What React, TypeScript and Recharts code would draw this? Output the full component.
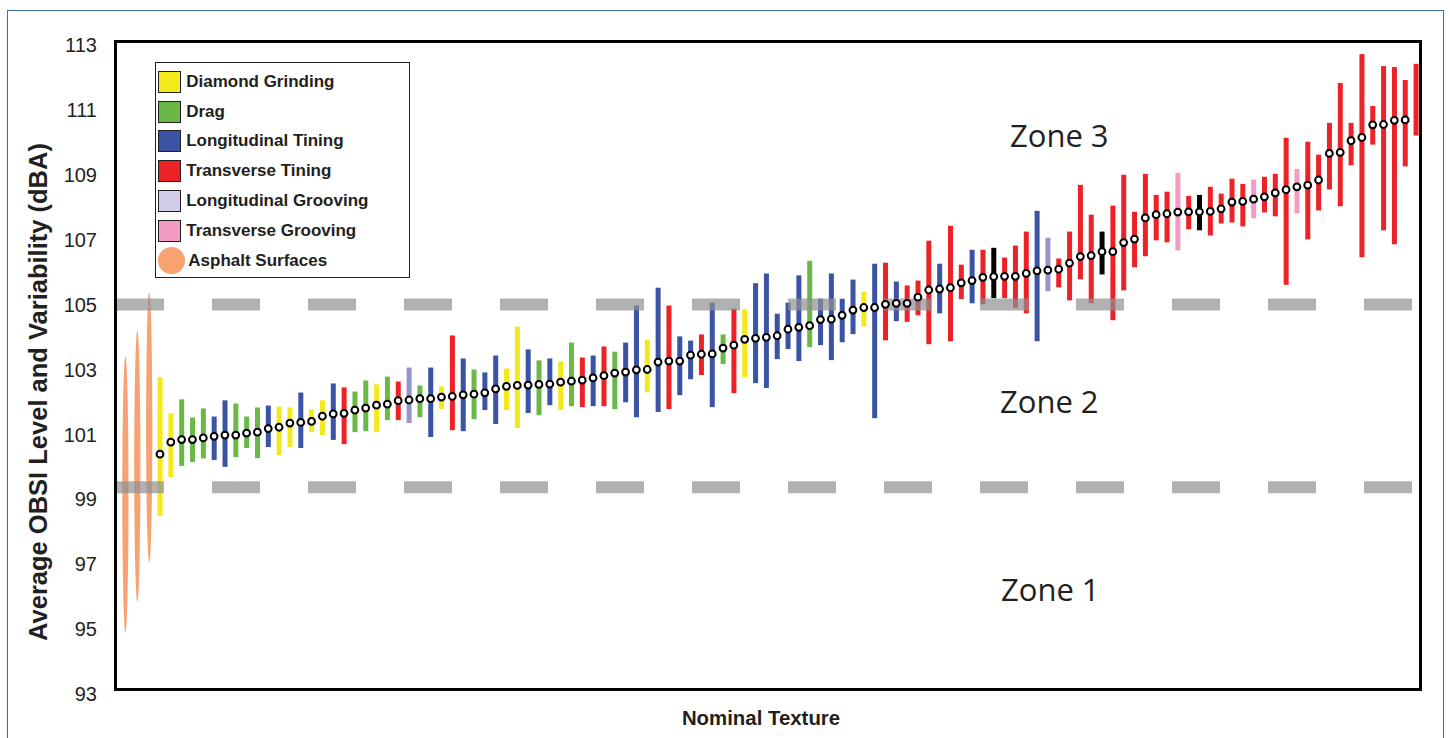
import {
  ComposedChart, Bar, Scatter, XAxis, YAxis, ReferenceLine, Legend, Label,
} from "recharts";

const FONT = '"Liberation Sans", Arial, Helvetica, sans-serif';
const INK = "#231f20";

// Texture class of each section, sorted by average OBSI level
// Y diamond grinding, G drag, B longitudinal tining, R transverse tining,
// L longitudinal grooving, P transverse grooving, K other
const textureType = [
  "Y", "Y", "G", "G", "G", "B", "B", "G", "G", "G",
  "B", "Y", "Y", "B", "Y", "Y", "B", "R", "G", "G",
  "Y", "G", "R", "L", "G", "B", "Y", "R", "B", "G",
  "B", "B", "Y", "Y", "B", "G", "B", "Y", "G", "R",
  "B", "R", "G", "B", "B", "Y", "B", "R", "B", "B",
  "R", "B", "G", "R", "Y", "B", "B", "B", "B", "B",
  "G", "B", "B", "B", "B", "Y", "B", "R", "B", "R",
  "R", "R", "B", "R", "R", "B", "R", "K", "R", "R",
  "R", "B", "L", "R", "R", "R", "R", "K", "R", "R",
  "R", "R", "R", "R", "P", "R", "K", "R", "R", "R",
  "R", "P", "R", "R", "R", "P", "R", "R", "R", "R",
  "R", "R", "R", "R", "R", "R", "R",
];

const textureLow = [
  98.49, 99.69, 100.03, 100.15, 100.26, 100.21, 100.0, 100.3, 100.58, 100.27,
  100.61, 100.36, 100.61, 100.58, 101.07, 100.98, 100.83, 100.7, 101.07, 101.1,
  101.07, 101.44, 101.44, 101.35, 101.53, 100.92, 101.78, 101.13, 101.1, 101.47,
  101.75, 101.32, 101.75, 101.2, 101.66, 101.59, 101.9, 101.75, 101.87, 101.84,
  101.87, 101.87, 101.78, 101.99, 101.53, 102.3, 101.69, 101.78, 102.21, 102.7,
  102.83, 101.84, 103.17, 102.27, 102.76, 102.58, 102.43, 103.32, 103.63, 103.26,
  103.69, 103.75, 103.29, 103.84, 104.09, 104.33, 101.5, 103.9, 104.49, 104.47,
  104.67, 103.78, 104.73, 103.87, 105.17, 105.04, 105.01, 105.2, 105.2, 104.89,
  104.73, 103.87, 105.41, 105.53, 105.13, 105.78, 105.04, 105.93, 104.52, 105.44,
  106.15, 106.49, 106.98, 106.92, 106.67, 107.32, 107.29, 107.13, 107.5, 107.53,
  107.41, 107.66, 107.84, 107.72, 105.61, 107.81, 107.01, 107.9, 108.55, 108.03,
  109.29, 106.46, 109.93, 107.29, 106.86, 109.26, 110.21,
];

const textureHigh = [
  102.77, 101.65, 102.08, 101.52, 101.8, 101.55, 102.05, 101.95, 101.55, 101.83,
  101.89, 101.86, 101.83, 102.29, 101.77, 102.05, 102.57, 102.45, 102.32, 102.66,
  102.54, 102.78, 102.63, 103.06, 102.51, 103.06, 102.48, 104.05, 103.34, 103.0,
  102.91, 103.43, 103.03, 104.32, 103.62, 103.28, 103.34, 103.25, 103.83, 103.37,
  103.43, 103.71, 103.55, 103.83, 104.97, 103.92, 105.52, 104.97, 104.02, 103.89,
  104.08, 105.06, 104.08, 104.88, 104.85, 105.66, 105.96, 104.72, 105.06, 105.9,
  106.35, 105.18, 105.96, 105.18, 105.77, 105.4, 106.26, 106.29, 105.71, 105.59,
  105.74, 106.97, 106.26, 107.43, 106.23, 106.69, 106.69, 106.75, 106.45, 106.82,
  107.25, 107.89, 107.06, 106.42, 107.25, 108.69, 107.77, 107.25, 108.05, 109.0,
  107.86, 109.03, 108.38, 108.48, 109.06, 108.35, 108.38, 108.63, 108.42, 108.88,
  108.72, 108.85, 108.94, 109.03, 110.14, 109.18, 110.02, 109.62, 110.6, 111.83,
  110.6, 112.72, 111.12, 112.35, 112.32, 111.92, 112.42,
];

const textureMean = [
  100.39, 100.76, 100.84, 100.84, 100.89, 100.94, 100.98, 100.98, 101.04, 101.07,
  101.18, 101.22, 101.35, 101.37, 101.4, 101.56, 101.63, 101.65, 101.75, 101.81,
  101.9, 101.93, 102.04, 102.06, 102.1, 102.1, 102.15, 102.17, 102.22, 102.24,
  102.28, 102.4, 102.48, 102.51, 102.52, 102.54, 102.55, 102.61, 102.64, 102.67,
  102.74, 102.81, 102.89, 102.92, 102.99, 103.0, 103.23, 103.26, 103.26, 103.44,
  103.47, 103.48, 103.66, 103.75, 103.93, 103.96, 103.99, 104.04, 104.24, 104.3,
  104.35, 104.54, 104.55, 104.67, 104.83, 104.91, 104.91, 105.01, 105.04, 105.04,
  105.23, 105.45, 105.48, 105.52, 105.67, 105.74, 105.84, 105.86, 105.87, 105.87,
  105.96, 106.04, 106.06, 106.09, 106.28, 106.48, 106.51, 106.63, 106.63, 106.91,
  107.02, 107.67, 107.77, 107.8, 107.85, 107.86, 107.86, 107.87, 107.95, 108.16,
  108.18, 108.25, 108.32, 108.44, 108.54, 108.63, 108.68, 108.84, 109.66, 109.69,
  110.05, 110.15, 110.54, 110.55, 110.68, 110.69, null,
];

// asphalt sections drawn as lenses left of the first texture
const asphaltPos = [-2.2, -1.1, 0];
const asphaltLow = [94.9, 95.84, 97.05];
const asphaltHigh = [103.41, 104.2, 105.39];

const yTicks = [93, 95, 97, 99, 101, 103, 105, 107, 109, 111, 113];
const zoneLimits = [105, 99.37];

const COLORS: Record<string, string> = {
  Y: "#f4e91b",
  G: "#6ab946",
  B: "#3a53a4",
  R: "#ec2227",
  L: "#9594cb",
  P: "#f39cc3",
  K: "#000000",
  A: "#f7a270",
};

const legendItems = [
  { label: "Diamond Grinding", color: COLORS.Y },
  { label: "Drag", color: COLORS.G },
  { label: "Longitudinal Tining", color: COLORS.B },
  { label: "Transverse Tining", color: COLORS.R },
  { label: "Longitudinal Grooving", color: "#cfcde8" },
  { label: "Transverse Grooving", color: COLORS.P },
  { label: "Asphalt Surfaces", color: COLORS.A, circle: true },
];

const rows = [
  ...asphaltPos.map((x, i) => ({ x, range: [asphaltLow[i], asphaltHigh[i]], kind: "A" })),
  ...textureType.map((t, i) => ({ x: i + 1, range: [textureLow[i], textureHigh[i]], kind: t })),
];

const dots = textureMean
  .map((m, i) => ({ x: i + 1, mean: m }))
  .filter((d) => d.mean != null);

function RangeMark(props: any) {
  const { x, y, width, height, payload } = props;
  const top = Math.min(y, y + height);
  const h = Math.abs(height);
  if (payload.kind === "A") {
    return <ellipse cx={x + width / 2} cy={top + h / 2} rx={3.1} ry={h / 2} fill={COLORS.A} />;
  }
  return <rect x={x} y={top} width={width} height={h} fill={COLORS[payload.kind]} />;
}

function MeanDot(props: any) {
  const { cx, cy } = props;
  return <circle cx={cx} cy={cy} r={3.4} fill="#fff" stroke="#000" strokeWidth={2} />;
}

function LegendBox() {
  return (
    <div
      style={{
        width: 255, height: 216, boxSizing: "border-box", border: `1.5px solid ${INK}`,
        background: "#fff", paddingTop: 4, paddingLeft: 1.5, fontFamily: FONT,
      }}
    >
      {legendItems.map((item) => (
        <div key={item.label} style={{ height: 29.8, display: "flex", alignItems: "center" }}>
          {item.circle ? (
            <span style={{ width: 26.5, height: 26.5, borderRadius: "50%", background: item.color, marginLeft: 0.7, marginRight: 3.6 }} />
          ) : (
            <span style={{ width: 23, height: 22, boxSizing: "border-box", border: `1.5px solid ${INK}`, background: item.color, marginRight: 5.7 }} />
          )}
          <span style={{ fontSize: 17, fontWeight: 700, color: INK, whiteSpace: "nowrap" }}>{item.label}</span>
        </div>
      ))}
    </div>
  );
}

function YTitle() {
  return (
    <text
      x={38} y={392} transform="rotate(-90 38 392)" textAnchor="middle" dominantBaseline="central"
      fontSize={25.5} fontWeight={700} fill={INK} fontFamily={FONT}
    >
      Average OBSI Level and Variability (dBA)
    </text>
  );
}

function XTitle() {
  return (
    <text
      x={761} y={718} textAnchor="middle" dominantBaseline="central"
      fontSize={20.4} fontWeight={700} fill={INK} fontFamily={FONT}
    >
      Nominal Texture
    </text>
  );
}

export default function App() {
  return (
    <div style={{ position: "absolute", left: 0, top: 0, width: 1450, height: 738, overflow: "hidden", background: "#fff" }}>
      <div style={{ position: "absolute", left: 7, top: 10, width: 1437, height: 760, border: "1.5px solid #3f6e97", boxSizing: "border-box" }} />
      <div style={{ position: "absolute", left: 0, top: 0 }}>
        <ComposedChart width={1450} height={738} data={rows} margin={{ top: 45, right: 30, bottom: 0, left: 0 }}>
          <XAxis
            type="number" dataKey="x" domain={[-3.06, 117.37]} allowDataOverflow
            height={44} tick={false} axisLine={false} tickLine={false}
          >
            <Label content={XTitle} />
          </XAxis>
          <YAxis
            type="number" domain={[93, 113]} ticks={yTicks} interval={0} width={116}
            axisLine={false} tickLine={false} tickSize={0} tickMargin={19}
            tick={{ fontSize: 20, fill: INK, fontFamily: FONT }}
          >
            <Label content={YTitle} />
          </YAxis>
          <Bar dataKey="range" barSize={5} shape={RangeMark} isAnimationActive={false} />
          {zoneLimits.map((v) => (
            <ReferenceLine
              key={v} y={v} stroke="#8e9093" strokeOpacity={0.7} strokeWidth={12} strokeDasharray="48 48"
            />
          ))}
          <Scatter data={dots} dataKey="mean" shape={MeanDot} isAnimationActive={false} />
          <Legend
            layout="horizontal" verticalAlign="middle" align="center" content={LegendBox}
            wrapperStyle={{ left: 155, top: 62, width: 255, height: 216 }}
          />
        </ComposedChart>
      </div>
      <div style={{ position: "absolute", left: 114, top: 39.5, width: 1308, height: 651, border: "3px solid #000", boxSizing: "border-box", pointerEvents: "none" }} />
      <svg width={1450} height={738} style={{ position: "absolute", left: 0, top: 0, pointerEvents: "none" }}>
        <g fontFamily='"Open Sans", "Noto Sans", sans-serif' fontSize={31} fill={INK}>
          <text x={1010} y={147}>Zone 3</text>
          <text x={1000} y={413}>Zone 2</text>
          <text x={1001} y={601}>Zone 1</text>
        </g>
      </svg>
    </div>
  );
}
